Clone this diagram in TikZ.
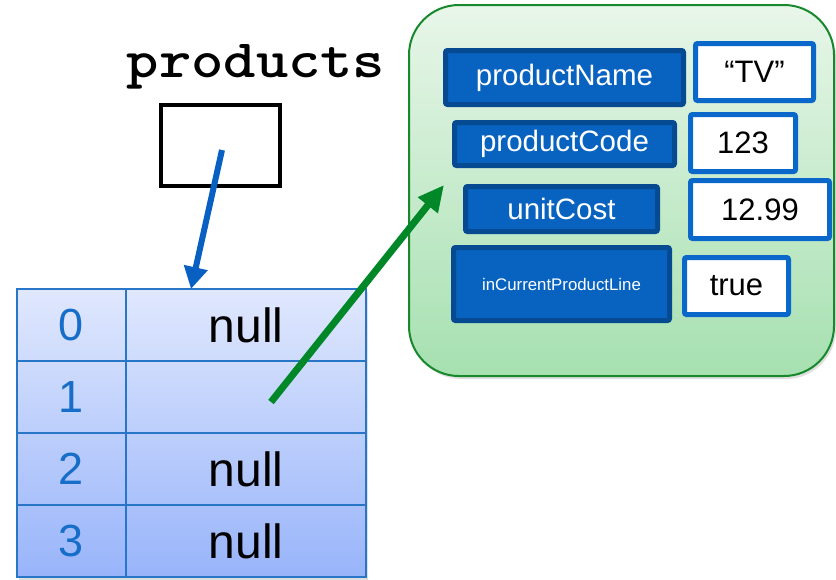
\documentclass[tikz,border=0pt]{standalone}
\usepackage{graphicx}
\usepackage{fontspec}
\setmainfont{Liberation Sans}
\usetikzlibrary{arrows.meta,shadows}

\definecolor{fieldfill}{RGB}{8,99,192}
\definecolor{fieldline}{RGB}{6,74,146}
\definecolor{valueline}{RGB}{10,104,202}
\definecolor{tableline}{RGB}{40,118,200}
\definecolor{indexblue}{RGB}{22,110,200}
\definecolor{tabletop}{RGB}{224,232,253}
\definecolor{tablebottom}{RGB}{152,180,250}
\definecolor{objtop}{RGB}{232,246,233}
\definecolor{objbottom}{RGB}{166,224,176}
\definecolor{objline}{RGB}{24,136,44}
\definecolor{refblue}{RGB}{8,96,194}
\definecolor{refgreen}{RGB}{0,136,40}

\tikzset{
  fieldbox/.style={draw=fieldline, fill=fieldfill, line width=5pt, rounded corners=2pt,
    inner sep=0pt, text=white, font=\fontsize{29.5}{30}\selectfont},
  valuebox/.style={draw=valueline, fill=white, line width=5pt, rounded corners=2pt,
    inner sep=0pt, text=black, font=\fontsize{31}{31}\selectfont},
  indexcell/.style={draw=tableline, line width=1.5pt, minimum width=109pt, minimum height=72pt,
    inner sep=0pt, text=indexblue, font=\fontsize{45}{45}\selectfont},
  valuecell/.style={draw=tableline, line width=1.5pt, minimum width=240pt, minimum height=72pt,
    inner sep=0pt, text=black, font=\fontsize{48}{48}\selectfont},
  refarrow/.style={line width=6pt, draw=refblue, -{Triangle[width=23pt,length=22pt]}},
  objarrow/.style={line width=7pt, draw=refgreen, -{Triangle[width=24pt,length=26pt]}},
}

\begin{document}
\begin{tikzpicture}[x=1pt,y=-1pt]
\useasboundingbox (0,0) rectangle (836,579);

% the object with its fields
\node[draw=objline, line width=2pt, rounded corners=50pt, top color=objtop, bottom color=objbottom,
  minimum width=425pt, minimum height=371pt, inner sep=0pt,
  drop shadow={opacity=0.25, shadow xshift=2pt, shadow yshift=-3pt}] (obj) at (621.5,190.5) {};

\node[fieldbox, minimum width=238pt, minimum height=54pt] (fname) at (564.5,77.5) {productName};
\node[valuebox, minimum width=118pt, minimum height=57pt] (vname) at (754.5,72) {“TV”};
\node[fieldbox, minimum width=220pt, minimum height=43pt] (fcode) at (564.5,144) {productCode};
\node[valuebox, minimum width=105pt, minimum height=57pt] (vcode) at (743,143) {123};
\node[fieldbox, minimum width=192pt, minimum height=45pt] (fcost) at (561.5,209) {unitCost};
\node[valuebox, minimum width=139pt, minimum height=58pt] (vcost) at (760,209.5) {12.99};
\node[fieldbox, minimum width=216pt, minimum height=73pt, font=\fontsize{16.8}{17}\selectfont]
  (fline) at (561.5,284) {inCurrentProductLine};
\node[valuebox, minimum width=104pt, minimum height=57pt] (vline) at (736.5,286) {true};

% the array
\node[top color=tabletop, bottom color=tablebottom, minimum width=349pt, minimum height=288pt,
  inner sep=0pt, drop shadow={opacity=0.25, shadow xshift=2pt, shadow yshift=-3pt}]
  (arr) at (191.5,433) {};
\node[indexcell] (i0) at (71.5,325) {0};
\node[indexcell] (i1) at (71.5,397) {1};
\node[indexcell] (i2) at (71.5,469) {2};
\node[indexcell] (i3) at (71.5,541) {3};
\node[valuecell] (v0) at (246,325) {null};
\node[valuecell] (v1) at (246,397) {};
\node[valuecell] (v2) at (246,469) {null};
\node[valuecell] (v3) at (246,541) {null};

% the reference variable
\node[anchor=base, inner sep=0pt, font=\ttfamily\bfseries\fontsize{54}{54}\selectfont]
  (plabel) at (256,77) {\scalebox{1.14}[1]{products}};
\node[draw=black, line width=4pt, minimum width=119pt, minimum height=81pt, inner sep=0pt]
  (pbox) at (220.5,145.5) {};

% references
\coordinate (pstart) at (222,150);
\coordinate (atop) at (191,289);
\coordinate (cstart) at (271,402);
\coordinate (oentry) at (444,185);
\draw[refarrow] (pstart) -- (atop);
\draw[objarrow] (cstart) -- (oentry);
\end{tikzpicture}
\end{document}
